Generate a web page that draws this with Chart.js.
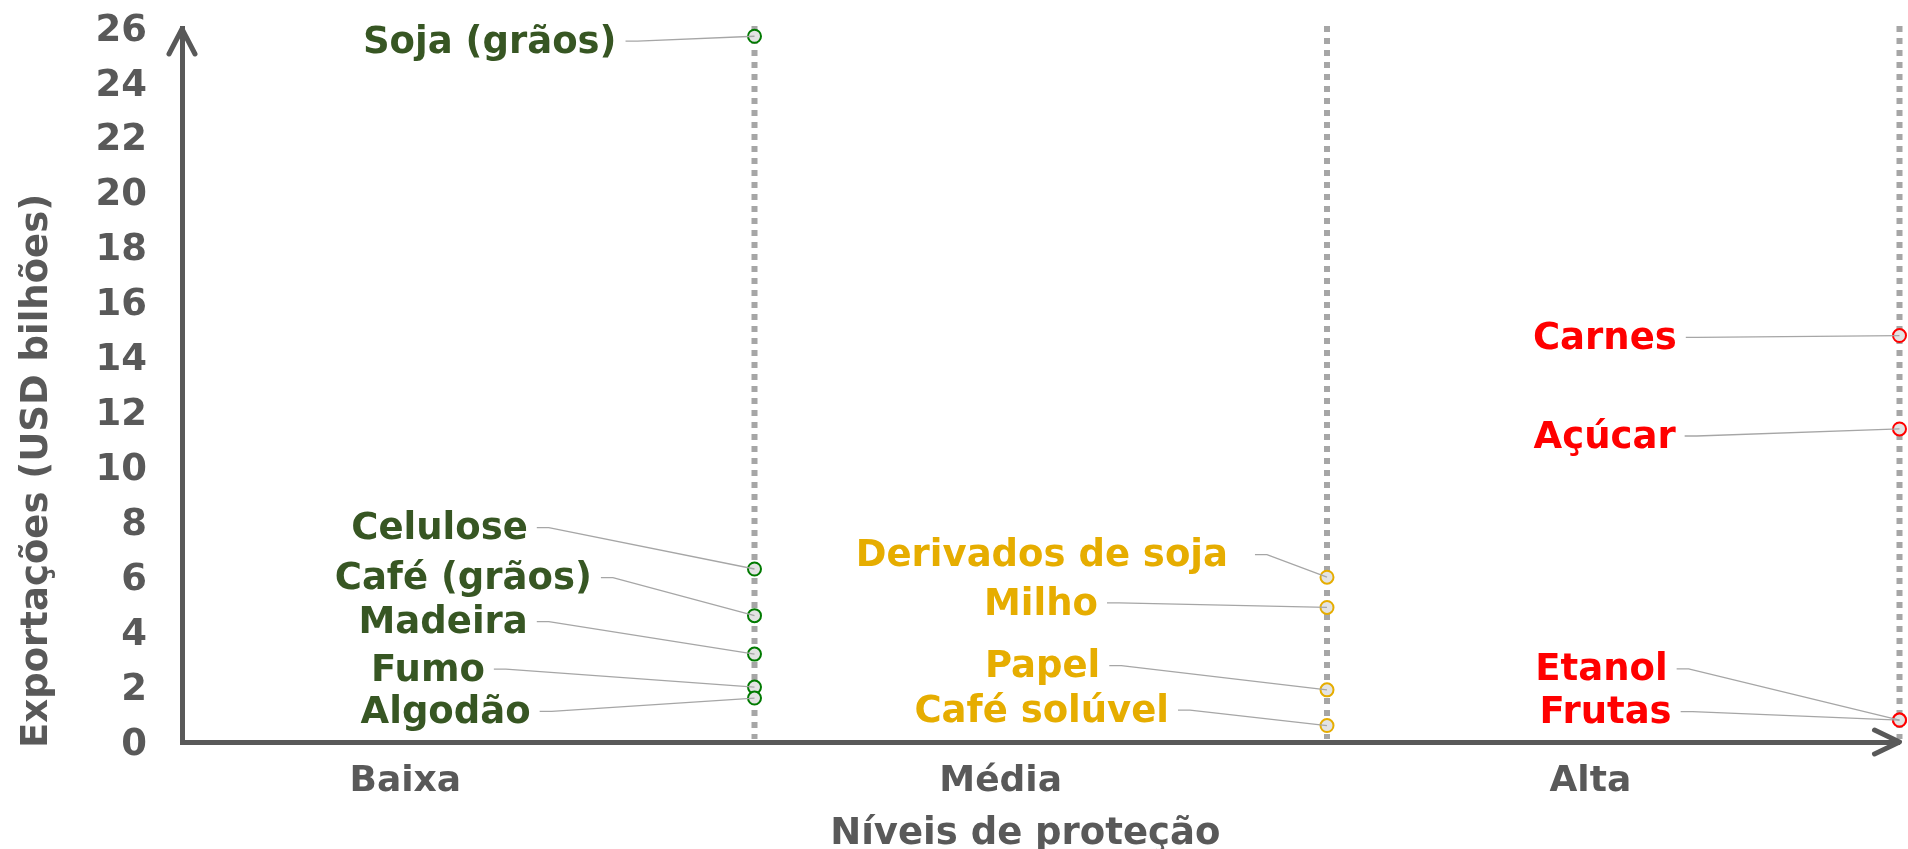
<!DOCTYPE html>
<html><head><meta charset="utf-8">
<script src="https://cdn.jsdelivr.net/npm/chart.js@4.4.1/dist/chart.umd.min.js"></script>
<style>html,body{margin:0;padding:0;background:#fff;overflow:hidden}</style>
</head><body>
<canvas id="c" width="1908" height="849"></canvas>
<script>
// ---- data ----
const levels = ['Baixa', 'Média', 'Alta'];
const levelLabelPositions = [0.39, 1.43, 2.46];
const levelLinePositions = [1, 2, 3];
const yTickValues = [0, 2, 4, 6, 8, 10, 12, 14, 16, 18, 20, 22, 24, 26];
const xTitle = 'Níveis de proteção';
const xTitlePosition = 1.473;
const yTitle = 'Exportações (USD bilhões)';

const baixaProducts = ['Soja (grãos)', 'Celulose', 'Café (grãos)', 'Madeira', 'Fumo', 'Algodão'];
const baixaValues = [25.7, 6.3, 4.6, 3.2, 2.0, 1.6];
const baixaLabelX = [0.759, 0.604, 0.716, 0.604, 0.529, 0.609];
const baixaLabelY = [25.45, 7.73, 5.91, 4.31, 2.58, 1.04];

const mediaProducts = ['Derivados de soja', 'Milho', 'Papel', 'Café solúvel'];
const mediaValues = [6.0, 4.9, 1.9, 0.6];
const mediaLabelX = [1.827, 1.600, 1.604, 1.724];
const mediaLabelY = [6.75, 4.99, 2.71, 1.09];

const altaProducts = ['Carnes', 'Açúcar', 'Etanol', 'Frutas'];
const altaValues = [14.8, 11.4, 0.8, 0.8];
const altaLabelX = [2.611, 2.609, 2.595, 2.602];
const altaLabelY = [14.66, 11.07, 2.59, 1.03];

// ---- styles ----
const FONT = 'DejaVu Sans';
const AXIS_GRAY = '#595959';
const LEADER_GAP = {'Derivados de soja': 27};
const groups = [
  {products: baixaProducts, values: baixaValues, lx: baixaLabelX, ly: baixaLabelY, level: 0, text: '#375623', border: '#007a00'},
  {products: mediaProducts, values: mediaValues, lx: mediaLabelX, ly: mediaLabelY, level: 1, text: '#e6ad00', border: '#e6ad00'},
  {products: altaProducts, values: altaValues, lx: altaLabelX, ly: altaLabelY, level: 2, text: '#ff0000', border: '#ff0000'}
];

const overlay = {
  id: 'overlay',
  beforeDatasetsDraw(chart) {
    const {ctx, chartArea, scales: {x}} = chart;
    ctx.save();
    ctx.strokeStyle = '#a6a6a6';
    ctx.lineWidth = 6;
    ctx.setLineDash([6, 6]);
    levelLinePositions.forEach(v => {
      const px = x.getPixelForValue(v);
      ctx.beginPath();
      ctx.moveTo(px, chartArea.top - 2);
      ctx.lineTo(px, chartArea.bottom - 3);
      ctx.stroke();
    });
    ctx.restore();
  },
  afterDatasetsDraw(chart) {
    const {ctx, chartArea, scales: {x, y}} = chart;
    ctx.save();
    groups.forEach(g => {
      g.products.forEach((p, i) => {
        const tx = x.getPixelForValue(g.lx[i]);
        const ty = y.getPixelForValue(g.ly[i]);
        const px = x.getPixelForValue(levelLinePositions[g.level]);
        const py = y.getPixelForValue(g.values[i]);
        const gap = LEADER_GAP[p] || 9;
        ctx.strokeStyle = '#a6a6a6';
        ctx.lineWidth = 1.3;
        ctx.beginPath();
        ctx.moveTo(tx + gap, ty - 2);
        ctx.lineTo(tx + gap + 12, ty - 2);
        ctx.lineTo(px, py);
        ctx.stroke();
        ctx.font = `bold 37px "${FONT}"`;
        ctx.fillStyle = g.text;
        ctx.textAlign = 'right';
        ctx.textBaseline = 'middle';
        ctx.fillText(p, tx, ty);
      });
    });
    // axis titles
    ctx.font = `bold 37px "${FONT}"`;
    ctx.fillStyle = AXIS_GRAY;
    ctx.textAlign = 'center';
    ctx.textBaseline = 'middle';
    ctx.fillText(xTitle, x.getPixelForValue(xTitlePosition), chart.height - 15);
    ctx.save();
    ctx.translate(37, chartArea.bottom + 6);
    ctx.rotate(-Math.PI / 2);
    ctx.textAlign = 'left';
    ctx.fillText(yTitle, 0, 0);
    ctx.restore();
    ctx.restore();
  },
  afterDraw(chart) {
    const {ctx, chartArea} = chart;
    ctx.save();
    ctx.strokeStyle = AXIS_GRAY;
    ctx.lineWidth = 5;
    ctx.lineCap = 'round';
    ctx.lineJoin = 'round';
    const l = chartArea.left, t = chartArea.top, r = chartArea.right, b = chartArea.bottom;
    ctx.beginPath();
    ctx.moveTo(l - 13, t + 26); ctx.lineTo(l, t + 1); ctx.lineTo(l + 13, t + 26);
    ctx.stroke();
    ctx.beginPath();
    ctx.moveTo(r - 25, b - 12); ctx.lineTo(r, b); ctx.lineTo(r - 25, b + 12);
    ctx.stroke();
    ctx.restore();
  }
};

new Chart(document.getElementById('c'), {
  type: 'scatter',
  data: {
    datasets: groups.map(g => ({
      label: levels[g.level],
      data: g.values.map(v => ({x: levelLinePositions[g.level], y: v})),
      pointRadius: 6.5,
      pointHoverRadius: 6.5,
      pointBorderWidth: 2,
      pointBackgroundColor: '#e3e3e3',
      pointBorderColor: g.border,
      clip: false
    }))
  },
  plugins: [overlay],
  options: {
    responsive: false,
    animation: false,
    devicePixelRatio: 1,
    layout: {padding: {left: 0, top: 28, right: 7, bottom: 0}},
    plugins: {legend: {display: false}, tooltip: {enabled: false}},
    scales: {
      x: {
        type: 'linear', min: 0, max: 3,
        afterBuildTicks: s => { s.ticks = levelLabelPositions.map(v => ({value: v})); },
        afterFit: s => { s.height = 107; s.paddingLeft = 0; s.paddingRight = 0; },
        grid: {display: false, drawTicks: false},
        border: {display: true, color: AXIS_GRAY, width: 5},
        ticks: {
          autoSkip: false, maxRotation: 0, padding: 18,
          color: AXIS_GRAY, font: {family: FONT, size: 36, weight: 'bold'},
          callback: (v, i) => levels[i]
        },
        title: {display: false}
      },
      y: {
        type: 'linear', min: 0, max: 26,
        afterBuildTicks: s => { s.ticks = yTickValues.map(v => ({value: v})); },
        afterFit: s => { s.width = 182; s.paddingTop = 0; s.paddingBottom = 0; },
        grid: {display: false, drawTicks: false},
        border: {display: true, color: AXIS_GRAY, width: 5},
        ticks: {padding: 35, labelOffset: 3, color: AXIS_GRAY, font: {family: FONT, size: 37, weight: 'bold'}},
        title: {display: false}
      }
    }
  }
});
</script>
</body></html>
